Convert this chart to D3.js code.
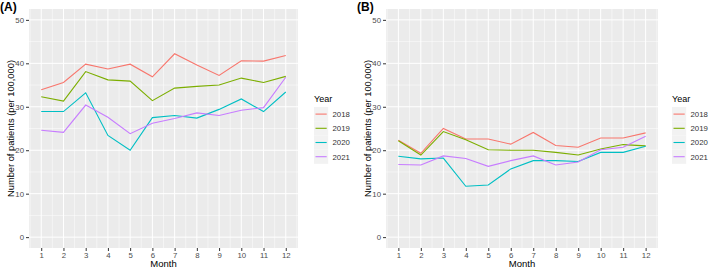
<!DOCTYPE html>
<html>
<head>
<meta charset="utf-8">
<script src="https://cdn.jsdelivr.net/npm/d3@7"></script>
<style>
  body { margin: 0; background: #fff; }
  svg { font-family: "Liberation Sans", Arial, sans-serif; }
</style>
</head>
<body>
<svg id="chart" width="709" height="269"></svg>
<script>
// data
var months = [1, 2, 3, 4, 5, 6, 7, 8, 9, 10, 11, 12];
var years = ["2018", "2019", "2020", "2021"];
var yTicks = [0, 10, 20, 30, 40, 50];

// panel A
var a2018 = [33.9, 35.6, 39.8, 38.7, 39.8, 36.9, 42.2, 39.6, 37.2, 40.6, 40.5, 41.8];
var a2019 = [32.3, 31.3, 38.1, 36.2, 35.9, 31.4, 34.3, 34.7, 35.0, 36.6, 35.6, 37.0];
var a2020 = [28.9, 28.9, 33.2, 23.4, 20.0, 27.5, 28.0, 27.4, 29.4, 31.8, 28.9, 33.4];
var a2021 = [24.6, 24.1, 30.4, 27.6, 23.8, 26.2, 27.3, 28.6, 28.0, 29.2, 29.8, 36.8];

// panel B
var b2018 = [22.3, 19.3, 25.0, 22.6, 22.6, 21.4, 24.1, 21.1, 20.7, 22.8, 22.8, 24.0];
var b2019 = [22.2, 18.9, 24.3, 22.4, 20.1, 20.0, 20.0, 19.5, 18.9, 20.3, 21.3, 21.0];
var b2020 = [18.6, 18.0, 18.2, 11.7, 12.0, 15.7, 17.6, 17.6, 17.4, 19.5, 19.5, 20.9];
var b2021 = [16.7, 16.6, 18.7, 18.1, 16.3, 17.6, 18.7, 16.6, 17.3, 20.1, 20.7, 23.2];

var colors = ["#F8766D", "#7CAE00", "#00BFC4", "#C77CFF"];

var svg = d3.select("#chart");

function drawPanel(label, series, px0, px1, labelX, legendX) {
    var py0 = 9, py1 = 248;

    var x = d3.scaleLinear().domain([1 - 0.55, 12 + 0.55]).range([px0, px1]);
    var y = d3.scaleLinear().domain([-2.5, 52.5]).range([py1, py0]);

    var g = svg.append("g");

    // panel background
    g.append("rect")
        .attr("x", px0).attr("y", py0)
        .attr("width", px1 - px0).attr("height", py1 - py0)
        .attr("fill", "#EBEBEB");

    // minor grid
    var yMinor = [5, 15, 25, 35, 45];
    var xMinor = d3.range(0.5, 13, 1);
    g.selectAll(".ymin").data(yMinor).enter().append("line")
        .attr("x1", px0).attr("x2", px1)
        .attr("y1", d => y(d)).attr("y2", d => y(d))
        .attr("stroke", "#fff").attr("stroke-width", 0.5);
    g.selectAll(".xmin").data(xMinor).enter().append("line")
        .attr("y1", py0).attr("y2", py1)
        .attr("x1", d => x(d)).attr("x2", d => x(d))
        .attr("stroke", "#fff").attr("stroke-width", 0.5);

    // major grid
    g.selectAll(".ymaj").data(yTicks).enter().append("line")
        .attr("x1", px0).attr("x2", px1)
        .attr("y1", d => y(d)).attr("y2", d => y(d))
        .attr("stroke", "#fff").attr("stroke-width", 1);
    g.selectAll(".xmaj").data(months).enter().append("line")
        .attr("y1", py0).attr("y2", py1)
        .attr("x1", d => x(d)).attr("x2", d => x(d))
        .attr("stroke", "#fff").attr("stroke-width", 1);

    // axes
    var yAxis = g.append("g")
        .attr("transform", "translate(" + px0 + ",0)")
        .call(d3.axisLeft(y).tickValues(yTicks).tickSize(3).tickPadding(2));
    var xAxis = g.append("g")
        .attr("transform", "translate(0," + py1 + ")")
        .call(d3.axisBottom(x).tickValues(months).tickSize(3).tickPadding(1));
    [yAxis, xAxis].forEach(function (ax) {
        ax.select(".domain").remove();
        ax.selectAll("line").attr("stroke", "#333333");
        ax.selectAll("text")
            .attr("fill", "#4D4D4D")
            .style("font-size", "7.8px")
            .style("font-family", "Liberation Sans, Arial, sans-serif");
    });

    // lines
    var line = d3.line()
        .x((d, i) => x(months[i]))
        .y(d => y(d));
    g.selectAll(".series").data(series).enter().append("path")
        .attr("d", d => line(d))
        .attr("fill", "none")
        .attr("stroke", (d, i) => colors[i])
        .attr("stroke-width", 1.1);

    // axis titles
    g.append("text")
        .attr("x", (x(1) + x(12)) / 2).attr("y", 267)
        .attr("text-anchor", "middle")
        .style("font-size", "9.5px")
        .text("Month");
    g.append("text")
        .attr("transform", "translate(" + (px0 - 15) + "," + ((py0 + py1) / 2) + ") rotate(-90)")
        .attr("text-anchor", "middle")
        .style("font-size", "9.3px")
        .text("Number of patients (per 100,000)");

    // panel tag
    g.append("text")
        .attr("x", labelX).attr("y", 11)
        .style("font-size", "12px")
        .style("font-weight", "bold")
        .text(label);

    // legend
    var lg = g.append("g").attr("transform", "translate(" + legendX + ",0)");
    lg.append("text")
        .attr("x", 0).attr("y", 101.5)
        .style("font-size", "9px")
        .text("Year");
    var items = lg.selectAll(".item").data(years).enter().append("g")
        .attr("transform", (d, i) => "translate(0," + (107 + i * 14.2) + ")");
    items.append("rect")
        .attr("x", 0).attr("y", 0)
        .attr("width", 14.2).attr("height", 14.2)
        .attr("fill", "#F2F2F2");
    items.append("line")
        .attr("x1", 1.5).attr("x2", 12.7)
        .attr("y1", 7.1).attr("y2", 7.1)
        .attr("stroke", (d, i) => colors[i])
        .attr("stroke-width", 1.1);
    items.append("text")
        .attr("x", 18.5).attr("y", 10)
        .attr("fill", "#333333")
        .style("font-size", "7.8px")
        .text(d => d);
}

drawPanel("(A)", [a2018, a2019, a2020, a2021], 29, 298, 0, 314);
drawPanel("(B)", [b2018, b2019, b2020, b2021], 386, 658, 357, 672);
</script>
</body>
</html>
